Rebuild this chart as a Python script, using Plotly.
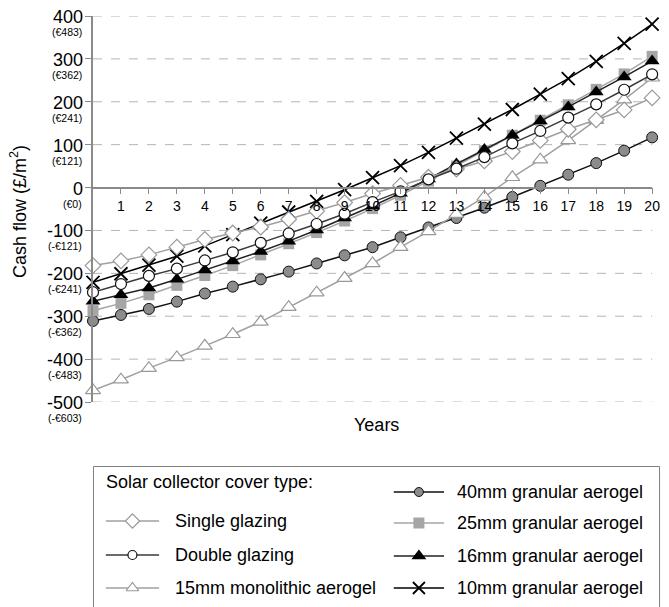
import plotly.graph_objects as go

years = list(range(21))
single_glazing = [-182, -171, -157, -139, -121, -106, -92, -74, -55, -35, -14, 5, 24, 43, 62, 84, 110, 136, 158, 181, 209]
double_glazing = [-244, -225, -206, -189, -170, -151, -129, -107, -85, -61, -34, -9, 19, 44, 71, 103, 132, 163, 194, 228, 264]
mono15 = [-473, -448, -421, -396, -369, -342, -313, -279, -245, -211, -177, -139, -102, -62, -22, 24, 65, 110, 157, 205, 256]
gran40 = [-311, -297, -283, -266, -247, -231, -214, -196, -177, -158, -139, -116, -93, -71, -47, -22, 4, 30, 57, 86, 117]
gran25 = [-287, -270, -250, -228, -205, -182, -157, -131, -105, -78, -49, -18, 15, 50, 86, 122, 157, 193, 229, 265, 306]
gran16 = [-265, -250, -234, -214, -192, -171, -149, -125, -99, -71, -43, -13, 20, 55, 89, 122, 155, 188, 223, 258, 295]
gran10 = [-221, -201, -181, -160, -136, -110, -83, -57, -32, -5, 23, 51, 82, 115, 148, 182, 218, 254, 294, 336, 381]

y_ticks = [400, 300, 200, 100, 0, -100, -200, -300, -400, -500]
euro_labels = ["(€483)", "(€362)", "(€241)", "(€121)", "(€0)", "(-€121)", "(-€241)", "(-€362)", "(-€483)", "(-€603)"]
x_ticks = list(range(1, 21))

FONT = "Liberation Sans, Arial, sans-serif"

styles = {
    "Single glazing": dict(data=single_glazing, line="#a0a0a0",
                           marker=dict(symbol="diamond", size=12, color="white", line=dict(color="#999999", width=1.2)),
                           lsize=11),
    "Double glazing": dict(data=double_glazing, line="#3a3a3a",
                           marker=dict(symbol="circle", size=11, color="white", line=dict(color="#111111", width=1.2)),
                           lsize=9),
    "15mm monolithic aerogel": dict(data=mono15, line="#a0a0a0",
                                    marker=dict(symbol="triangle-up", size=13, color="white", line=dict(color="#999999", width=1.2)),
                                    lsize=11),
    "40mm granular aerogel": dict(data=gran40, line="#111111",
                                  marker=dict(symbol="circle", size=11, color="#8c8c8c", line=dict(color="#111111", width=1)),
                                  lsize=9),
    "25mm granular aerogel": dict(data=gran25, line="#a6a6a6",
                                  marker=dict(symbol="square", size=11, color="#a6a6a6", line=dict(color="#a6a6a6", width=0)),
                                  lsize=11),
    "16mm granular aerogel": dict(data=gran16, line="#222222",
                                  marker=dict(symbol="triangle-up", size=13, color="#000000", line=dict(color="#000000", width=0)),
                                  lsize=13),
    "10mm granular aerogel": dict(data=gran10, line="#000000",
                                  marker=dict(symbol="x-thin", size=13, color="#000000", line=dict(color="#000000", width=1.8)),
                                  lsize=12),
}

draw_order = ["40mm granular aerogel", "25mm granular aerogel", "16mm granular aerogel", "10mm granular aerogel",
              "15mm monolithic aerogel", "Single glazing", "Double glazing"]

fig = go.Figure()
for name in draw_order:
    s = styles[name]
    fig.add_trace(go.Scatter(x=years, y=s["data"], mode="lines+markers", name=name,
                             line=dict(color=s["line"], width=1.5), marker=s["marker"],
                             cliponaxis=False, showlegend=False, xaxis="x", yaxis="y"))

# Manual legend (pixel-space helper axes x2/y2)
left_col = ["Single glazing", "Double glazing", "15mm monolithic aerogel"]
left_rows = [521, 555, 588]
right_col = ["40mm granular aerogel", "25mm granular aerogel", "16mm granular aerogel", "10mm granular aerogel"]
right_rows = [492, 523, 556, 588]
LEG_FONT = 18

annotations = []
for names, rows, lx0, lx1, tx in [(left_col, left_rows, 106, 160, 174), (right_col, right_rows, 398, 449, 460)]:
    for name, ry in zip(names, rows):
        s = styles[name]
        fig.add_trace(go.Scatter(x=[lx0, lx1], y=[ry, ry], mode="lines", line=dict(color=s["line"], width=1.5),
                                 showlegend=False, hoverinfo="skip", xaxis="x2", yaxis="y2"))
        mk = dict(s["marker"])
        mk["size"] = s["lsize"]
        fig.add_trace(go.Scatter(x=[(lx0 + lx1) / 2], y=[ry], mode="markers", marker=mk,
                                 showlegend=False, hoverinfo="skip", xaxis="x2", yaxis="y2", cliponaxis=False))
        annotations.append(dict(x=tx, y=ry, xref="x2", yref="y2", text=name, showarrow=False,
                                xanchor="left", yanchor="middle", font=dict(family=FONT, size=LEG_FONT, color="black")))
annotations.append(dict(x=104, y=482, xref="x2", yref="y2", text="Solar collector cover type:", showarrow=False,
                        xanchor="left", yanchor="middle", font=dict(family=FONT, size=LEG_FONT, color="black")))

W, H = 669, 607
ml, mt = 93, 16
plot_w = W - ml
plot_h = H - mt
y_bottom_px = 402
d0 = (H - y_bottom_px) / plot_h
x_right = 567 / plot_w
zero_pos = d0 + (500 / 900) * (1 - d0)

for v, e in zip(y_ticks, euro_labels):
    annotations.append(dict(x=0, xref="paper", y=v, yref="y", text=str(v), showarrow=False,
                            xanchor="right", yanchor="middle", xshift=-8, yshift=-1,
                            font=dict(family=FONT, size=18, color="black")))
    annotations.append(dict(x=0, xref="paper", y=v, yref="y", text=e, showarrow=False,
                            xanchor="right", yanchor="middle", xshift=-9, yshift=-16,
                            font=dict(family=FONT, size=10.5, color="black")))

annotations.append(dict(x=(18 - ml) / plot_w, xref="paper", y=(H - 212) / plot_h, yref="paper",
                        text="Cash flow (£/m<sup>2</sup>)", textangle=-90, showarrow=False,
                        xanchor="center", yanchor="middle", font=dict(family=FONT, size=18, color="black")))
annotations.append(dict(x=(380 - ml) / plot_w, xref="paper", y=(H - 425) / plot_h, yref="paper",
                        text="Years", showarrow=False, xanchor="center", yanchor="middle",
                        font=dict(family=FONT, size=18, color="black")))

shapes = []
for v in y_ticks:
    if v == 0:
        continue
    shapes.append(dict(type="line", xref="x domain", yref="y", x0=0, x1=1, y0=v, y1=v,
                       line=dict(color="#b4b4b4", width=1, dash="dash"), layer="below"))
# small extension of the y-axis line below -500
shapes.append(dict(type="line", xref="x domain", yref="y", x0=0, x1=0, y0=-500, y1=-520,
                   line=dict(color="#8a8a8a", width=1.5)))
shapes.append(dict(type="rect", xref="paper", yref="paper",
                   x0=0.5 / plot_w, x1=574.5 / plot_w, y0=(H - 466.5) / plot_h, y1=-0.05,
                   line=dict(color="#808080", width=1), fillcolor="rgba(0,0,0,0)"))

fig.update_layout(
    width=W, height=H,
    margin=dict(l=ml, r=0, t=mt, b=0),
    paper_bgcolor="white", plot_bgcolor="white",
    font=dict(family=FONT, color="black"),
    xaxis=dict(domain=[0, x_right], range=[0, 20], anchor="free", position=zero_pos,
               showline=True, linecolor="#8a8a8a", linewidth=1.5, ticks="outside", ticklen=6,
               tickcolor="#8a8a8a", tickwidth=1, tickvals=x_ticks, ticktext=[str(t) for t in x_ticks],
               tickfont=dict(family=FONT, size=14, color="black"), showgrid=False, zeroline=False),
    yaxis=dict(domain=[d0, 1], range=[-500, 400], showline=True, linecolor="#8a8a8a", linewidth=1.5,
               ticks="outside", ticklen=6, tickcolor="#8a8a8a", tickvals=y_ticks, showticklabels=False,
               showgrid=False, zeroline=False, anchor="x"),
    xaxis2=dict(domain=[0, 1], range=[ml, W], visible=False, anchor="y2", fixedrange=True),
    yaxis2=dict(domain=[0, d0], range=[H, y_bottom_px], visible=False, anchor="x2", fixedrange=True),
    annotations=annotations,
    shapes=shapes,
    showlegend=False,
)

fig.write_html("out.html")
